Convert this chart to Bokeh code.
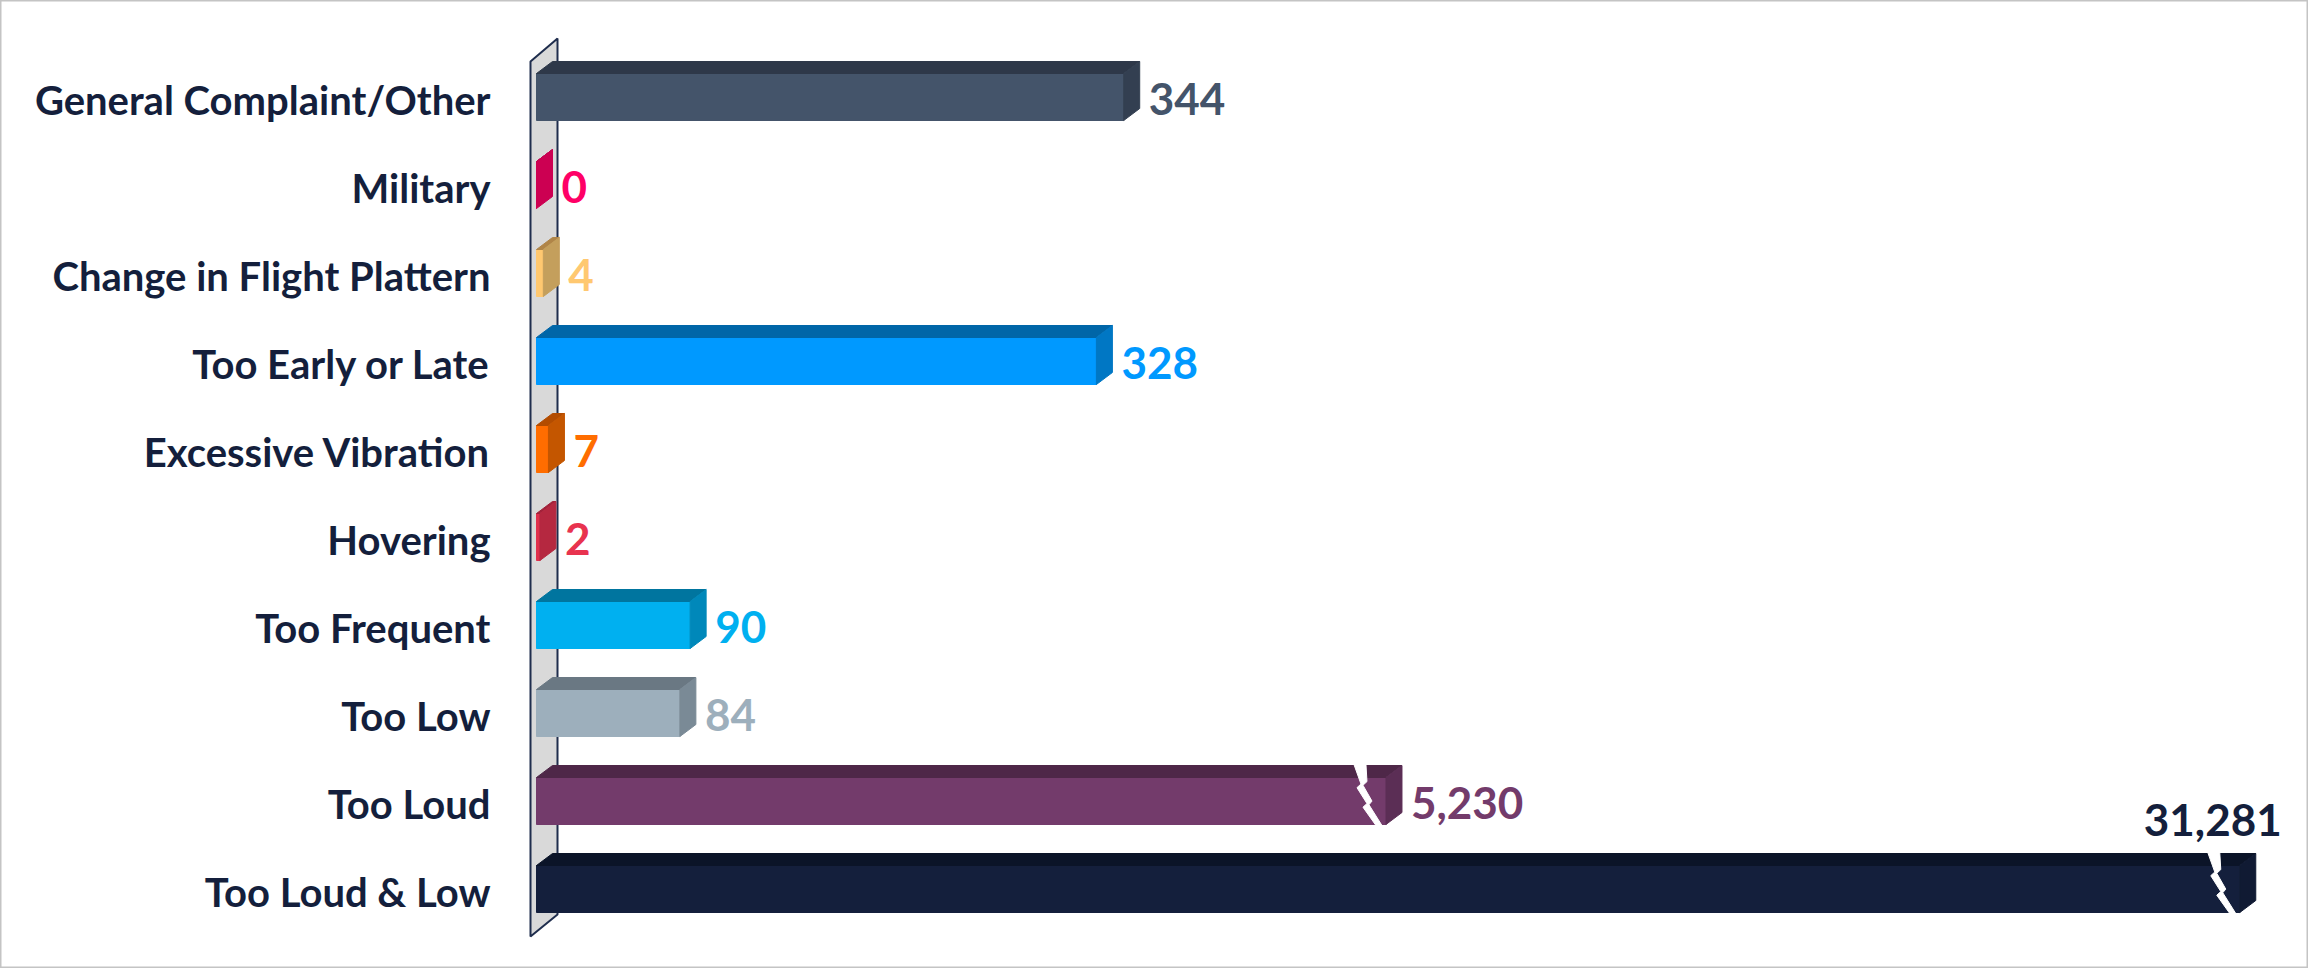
from bokeh.plotting import figure
from bokeh.models import Range1d, ColumnDataSource
from bokeh.core.properties import value
from bokeh.embed import file_html
from bokeh.resources import INLINE

# ---------------- data ----------------
categories = ["General Complaint/Other", "Military", "Change in Flight Plattern",
              "Too Early or Late", "Excessive Vibration", "Hovering", "Too Frequent",
              "Too Low", "Too Loud", "Too Loud & Low"]
counts = [344, 0, 4, 328, 7, 2, 90, 84, 5230, 31281]

front_colors = ["#44546a", "#cc0052", "#ffc870", "#0099ff", "#ff6d00",
                "#e0304e", "#00b0f0", "#9dafbc", "#733b6b", "#141f3c"]
top_colors = ["#2e3849", "#a30042", "#b08548", "#0066a8", "#b34c00",
              "#a1223a", "#00759f", "#6a7883", "#4e2748", "#0b1428"]
side_colors = ["#333f51", "#cc0052", "#c49f5c", "#0077c4", "#c45600",
               "#b52840", "#0088ba", "#7a8a96", "#5b2e55", "#101a33"]
label_colors = ["#44546a", "#ff0066", "#ffc870", "#0099ff", "#ff6d00",
                "#e8334f", "#00b0f0", "#9dafbc", "#733b6b", "#141f3c"]

# broken value axis: linear up to the break, compressed beyond it
AXIS_BREAK = 405
BREAK_SCALE = 0.0192


def axis_pos(v):
    return v if v <= AXIS_BREAK else AXIS_BREAK + (v - AXIS_BREAK) * BREAK_SCALE


# ---------------- geometry / style constants ----------------
W, H = 2308, 968
PX_PER_UNIT = 1.707      # horizontal pixels per value unit
ROW_PX = 88.0            # pixels between category rows
X0_PX = 536              # pixel of value 0
ROW0_PX = 96.5           # pixel centre of first row


def px_x(px):
    return px / PX_PER_UNIT


def px_y(px):
    return px / ROW_PX


DX = px_x(16)
DY = px_y(12)
HALF = px_y(23.5)

# lightning-shaped break mark (pixel offsets from the bar end, fraction of bar height)
BRK_LEFT_X = [-32, -25, -29, -19, -23, -10]
BRK_LEFT_T = [0, 0.32, 0.38, 0.64, 0.70, 1.0]
BRK_RIGHT_X = [-20, -19, -23, -14, -17, -4]
BRK_RIGHT_T = [0, 0.28, 0.34, 0.60, 0.66, 1.0]

p = figure(width=W, height=H, output_backend="svg", toolbar_location=None,
           x_range=Range1d(-px_x(X0_PX), px_x(W - X0_PX)),
           y_range=Range1d(px_y(H - ROW0_PX), -px_y(ROW0_PX)),
           x_axis_location=None, y_axis_location=None, min_border=0)
p.grid.visible = False
p.background_fill_color = "white"
p.border_fill_color = "white"
p.outline_line_color = "#c4c4c4"
p.outline_line_width = 2

n = len(categories)

# ---------------- back wall ----------------
wall_l, wall_r = px_x(530 - X0_PX), px_x(557 - X0_PX)
p.patch([wall_l, wall_r, wall_r, wall_l],
        [-px_y(ROW0_PX - 61), -px_y(ROW0_PX - 38), (n - 1) + px_y(914 - 888.5), (n - 1) + px_y(936 - 888.5)],
        fill_color="#d9d9d9", line_color="#1f2d4d", line_width=2)

# ---------------- 3D bars ----------------
front = dict(xs=[], ys=[], c=[])
top = dict(xs=[], ys=[], c=[])
side = dict(xs=[], ys=[], c=[])
brk = dict(xs=[], ys=[])
lab = dict(x=[], y=[], t=[], c=[])
lab_above = dict(x=[], y=[], t=[], c=[])

x_end = px_x(W - X0_PX)
for i, v in enumerate(counts):
    d = axis_pos(v)
    yt, yb = i - HALF, i + HALF
    front["xs"].append([0, d, d, 0]); front["ys"].append([yt, yt, yb, yb]); front["c"].append(front_colors[i])
    top["xs"].append([0, d, d + DX, DX]); top["ys"].append([yt, yt, yt - DY, yt - DY]); top["c"].append(top_colors[i])
    side["xs"].append([d, d + DX, d + DX, d]); side["ys"].append([yt, yt - DY, yb - DY, yb]); side["c"].append(side_colors[i])
    if v > AXIS_BREAK:
        y0, y1 = yt - DY - px_y(1), yb + px_y(1)
        hh = y1 - y0
        xs = [d + px_x(a) for a in BRK_LEFT_X] + [d + px_x(a) for a in BRK_RIGHT_X[::-1]]
        ys = [y0 + t * hh for t in BRK_LEFT_T] + [y0 + t * hh for t in BRK_RIGHT_T[::-1]]
        brk["xs"].append(xs); brk["ys"].append(ys)
    txt = f"{v:,}"
    est_w = px_x(len(txt) * 25)
    if d + DX + px_x(12) + est_w > x_end:
        lab_above["x"].append(d - px_x(27)); lab_above["y"].append(i - px_y(69))
        lab_above["t"].append(txt); lab_above["c"].append(label_colors[i])
    else:
        lab["x"].append(d + DX + px_x(9)); lab["y"].append(i + px_y(2))
        lab["t"].append(txt); lab["c"].append(label_colors[i])

p.patches("xs", "ys", source=ColumnDataSource(front), fill_color="c", line_color="c", line_width=1)
p.patches("xs", "ys", source=ColumnDataSource(top), fill_color="c", line_color="c", line_width=1)
p.patches("xs", "ys", source=ColumnDataSource(side), fill_color="c", line_color="c", line_width=1)
p.patches("xs", "ys", source=ColumnDataSource(brk), fill_color="white", line_color="white", line_width=1)

# ---------------- labels ----------------
p.text(x=[px_x(490 - X0_PX)] * n, y=[i + px_y(3) for i in range(n)], text=categories,
       text_align="right", text_baseline="middle", text_font=value("Lato"),
       text_font_style="bold", text_font_size="40px", text_color="#141f3c")
p.text("x", "y", text="t", source=ColumnDataSource(lab), text_color="c",
       text_align="left", text_baseline="middle", text_font=value("Lato"),
       text_font_style="bold", text_font_size="44px")
p.text("x", "y", text="t", source=ColumnDataSource(lab_above), text_color="c",
       text_align="center", text_baseline="alphabetic", text_font=value("Lato"),
       text_font_style="bold", text_font_size="44px")

open("out.html", "w").write(file_html(p, INLINE))
